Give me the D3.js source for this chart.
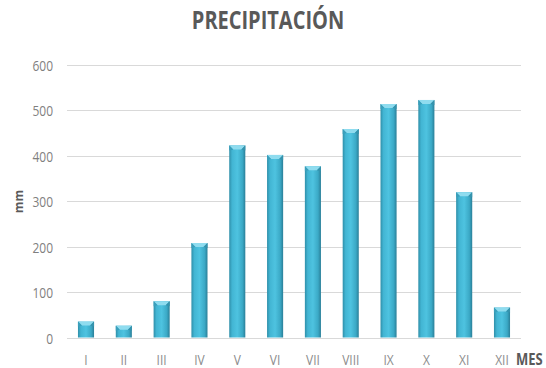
<!DOCTYPE html>
<html>
<head>
<meta charset="utf-8">
<script src="https://cdn.jsdelivr.net/npm/d3@7"></script>
<style>
  html, body { margin: 0; padding: 0; background: #fff; }
  svg { display: block; }
</style>
</head>
<body>
<svg id="chart" width="546" height="368"></svg>
<script>
// Monthly precipitation (mm)
const months = ["I", "II", "III", "IV", "V", "VI", "VII", "VIII", "IX", "X", "XI", "XII"];
const precipitation = [35, 26, 80, 208, 423, 402, 377, 459, 514, 523, 320, 66];
const yTicks = [0, 100, 200, 300, 400, 500, 600];

const svg = d3.select("#chart");
const margin = { left: 67, right: 25, top: 65, bottom: 30.5 };
const W = 546, H = 368;
const stretch = 1.2; // tall, narrow lettering

const x = d3.scaleBand()
  .domain(months)
  .range([margin.left, W - margin.right])
  .paddingInner(0.575)
  .paddingOuter(0.29);

const y = d3.scaleLinear()
  .domain([0, 600])
  .range([H - margin.bottom, margin.top]);

// Bar fill: cylinder-like horizontal shading
const defs = svg.append("defs");
const grad = defs.append("linearGradient").attr("id", "barGrad")
  .attr("x1", "0").attr("x2", "1").attr("y1", "0").attr("y2", "0");
grad.append("stop").attr("offset", "0%").attr("stop-color", "#2f8fa9");
grad.append("stop").attr("offset", "18%").attr("stop-color", "#42b5d3");
grad.append("stop").attr("offset", "50%").attr("stop-color", "#4ec3e0");
grad.append("stop").attr("offset", "82%").attr("stop-color", "#3ba9c6");
grad.append("stop").attr("offset", "100%").attr("stop-color", "#2a7f98");

// Gridlines
svg.append("g")
  .selectAll("line")
  .data(yTicks)
  .join("line")
  .attr("x1", margin.left)
  .attr("x2", W - margin.right)
  .attr("y1", d => Math.round(y(d)) + 0.5)
  .attr("y2", d => Math.round(y(d)) + 0.5)
  .attr("stroke", "#d9d9d9")
  .attr("stroke-width", 1);

// Y axis labels
const yAxis = d3.axisLeft(y).tickValues(yTicks).tickSize(0).tickPadding(0);
const gy = svg.append("g")
  .attr("transform", `translate(${margin.left - 14},0)`)
  .call(yAxis);
gy.select(".domain").remove();
gy.selectAll("text")
  .attr("dy", 0)
  .attr("x", 0)
  .attr("y", 0)
  .attr("transform", `translate(0,5.5) scale(1,${stretch})`)
  .attr("fill", "#7f7f7f")
  .style("font-family", "'Open Sans', sans-serif")
  .style("font-size", "12px");

// X axis labels
const xAxis = d3.axisBottom(x).tickSize(0).tickPadding(0);
const gx = svg.append("g")
  .attr("transform", `translate(0,365)`)
  .call(xAxis);
gx.select(".domain").remove();
gx.selectAll("text")
  .attr("dy", 0)
  .attr("y", 0)
  .attr("transform", `scale(1,${stretch})`)
  .attr("fill", "#8c8c8c")
  .style("font-family", "'Open Sans', sans-serif")
  .style("font-size", "12px");

// Bars
const bars = svg.append("g")
  .selectAll("g")
  .data(months.map((m, i) => ({ m, v: precipitation[i] })))
  .join("g");

bars.append("rect")
  .attr("x", d => x(d.m))
  .attr("y", d => y(d.v))
  .attr("width", x.bandwidth())
  .attr("height", d => y(0) - y(d.v))
  .attr("fill", "url(#barGrad)");

// Bevelled top cap
const cap = 4;
bars.append("path")
  .attr("d", d => {
    const x0 = x(d.m), x1 = x0 + x.bandwidth(), t = y(d.v);
    return `M${x0},${t}L${x1},${t}L${x1 - cap},${t + cap}L${x0 + cap},${t + cap}Z`;
  })
  .attr("fill", "#8fdcef");
bars.append("path")
  .attr("d", d => {
    const x0 = x(d.m), t = y(d.v);
    return `M${x0},${t}L${x0 + cap},${t + cap}L${x0},${t + cap + 1}Z`;
  })
  .attr("fill", "#3a9fbb");
bars.append("path")
  .attr("d", d => {
    const x1 = x(d.m) + x.bandwidth(), t = y(d.v);
    return `M${x1},${t}L${x1 - cap},${t + cap}L${x1},${t + cap + 1}Z`;
  })
  .attr("fill", "#3593ad");

// Title
svg.append("text")
  .attr("transform", `translate(268,29) scale(1,1.22)`)
  .attr("text-anchor", "middle")
  .attr("fill", "#595959")
  .style("font-family", "'Open Sans', sans-serif")
  .style("font-weight", "bold")
  .style("font-size", "20px")
  .text("PRECIPITACIÓN");

// Axis titles
svg.append("text")
  .attr("transform", "translate(23,201.5) rotate(-90) scale(1,1.1)")
  .attr("text-anchor", "middle")
  .attr("fill", "#595959")
  .style("font-family", "'Open Sans', sans-serif")
  .style("font-weight", "bold")
  .style("font-size", "12px")
  .text("mm");

svg.append("text")
  .attr("transform", `translate(516,365) scale(1,${stretch})`)
  .attr("fill", "#595959")
  .style("font-family", "'Open Sans', sans-serif")
  .style("font-weight", "bold")
  .style("font-size", "13px")
  .text("MES");
</script>
</body>
</html>
